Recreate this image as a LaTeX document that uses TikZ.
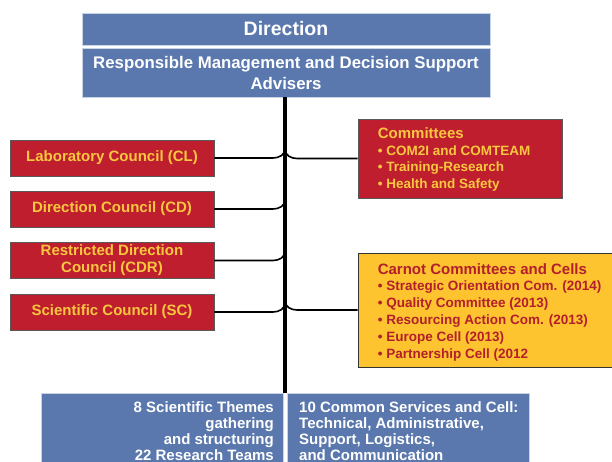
\documentclass[tikz,border=0pt]{standalone}
\usepackage{fontspec}
\setmainfont{Liberation Sans}
\definecolor{boxblue}{HTML}{5A78AD}
\definecolor{blueedge}{HTML}{C8D3E6}
\definecolor{cellred}{HTML}{BE1E2D}
\definecolor{celltext}{HTML}{F9C73F}
\definecolor{carnotfill}{HTML}{FDC42F}
\definecolor{carnottext}{HTML}{B31F2C}

\begin{document}
\begin{tikzpicture}[x=1pt,y=-1pt,
  bluebox/.style={draw=blueedge, line width=0.8pt, fill=boxblue, inner sep=0pt, text=white},
  redbox/.style={draw=black!65, line width=0.6pt, fill=cellred, minimum width=204pt,
    minimum height=36pt, inner sep=0pt, align=center, text=celltext,
    font=\fontsize{15}{17}\selectfont\bfseries},
  listtext/.style={inner sep=0pt, anchor=west, align=left,
    font=\fontsize{13.5}{16.8}\selectfont\bfseries},
  bottomtext/.style={inner sep=0pt, text=white, font=\fontsize{15}{16}\selectfont\bfseries},
  conn/.style={draw=black, line width=1.6pt},
  trunkline/.style={draw=black, line width=3.2pt}
]
\clip (0,0) rectangle (612,462);
\fill[white] (0,0) rectangle (612,462);

% top of the chart
\node[bluebox, minimum width=408pt, minimum height=32pt,
  font=\fontsize{19.5}{22}\selectfont\bfseries] (dir) at (286,29) {Direction};
\node[bluebox, minimum width=408pt, minimum height=49pt, align=center,
  font=\fontsize{16.8}{21}\selectfont\bfseries] (adv) at (286,73)
  {Responsible Management and Decision Support\\Advisers};

% bottom units
\node[bluebox, minimum width=242pt, minimum height=90pt] (themes) at (162,438) {};
\node[bluebox, minimum width=242pt, minimum height=90pt] (services) at (408,438) {};
\node[bottomtext, anchor=north east, align=right] (themestxt) at (274,401)
  {8 Scientific Themes\\gathering\\and structuring\\22 Research Teams};
\node[bottomtext, anchor=north west, align=left] (servicestxt) at (299,401)
  {10 Common Services and Cell:\\Technical, Administrative,\\Support, Logistics,\\and Communication};

% trunk
\coordinate (trunktop) at (285,97);
\coordinate (trunkbot) at (285,393);
\draw[trunkline] (trunktop) -- (trunkbot);

% councils
\node[redbox] (cl) at (112,158) {Laboratory Council (CL)};
\node[redbox] (cd) at (112,209) {Direction Council (CD)};
\node[redbox] (cdr) at (112,260.5) {Restricted Direction\\Council (CDR)};
\node[redbox] (sc) at (112,312) {Scientific Council (SC)};

% committees
\node[draw=black!65, line width=0.6pt, fill=cellred, minimum width=204pt,
  minimum height=79pt, inner sep=0pt] (com) at (460,158.5) {};
\node[listtext, text=celltext] (comtxt) at ([xshift=20pt,yshift=-1pt]com.west)
  {{\fontsize{15}{16.8}\selectfont Committees}\\
   • COM2I and COMTEAM\\
   • Training-Research\\
   • Health and Safety};

\node[draw=black!80, line width=0.8pt, fill=carnotfill, minimum width=256pt,
  minimum height=114pt, inner sep=0pt] (carnot) at (486,310) {};
\node[listtext, text=carnottext] (carnottxt) at ([xshift=20pt,yshift=-2pt]carnot.west)
  {{\fontsize{15}{16.8}\selectfont Carnot Committees and Cells}\\
   • Strategic Orientation Com. (2014)\\
   • Quality Committee (2013)\\
   • Resourcing Action Com. (2013)\\
   • Europe Cell (2013)\\
   • Partnership Cell (2012};

% connectors joining the trunk
\foreach \b in {cl,cd,cdr,sc}{
  \draw[conn] (\b.east) -- ([xshift=-12pt]\b.east -| trunktop)
    to[out=0,in=-90] ([yshift=9pt]\b.east -| trunktop);
}
\foreach \b in {com,carnot}{
  \draw[conn] (\b.west) -- ([xshift=12pt]\b.west -| trunktop)
    to[out=180,in=-90] ([yshift=9pt]\b.west -| trunktop);
}
\end{tikzpicture}
\end{document}
